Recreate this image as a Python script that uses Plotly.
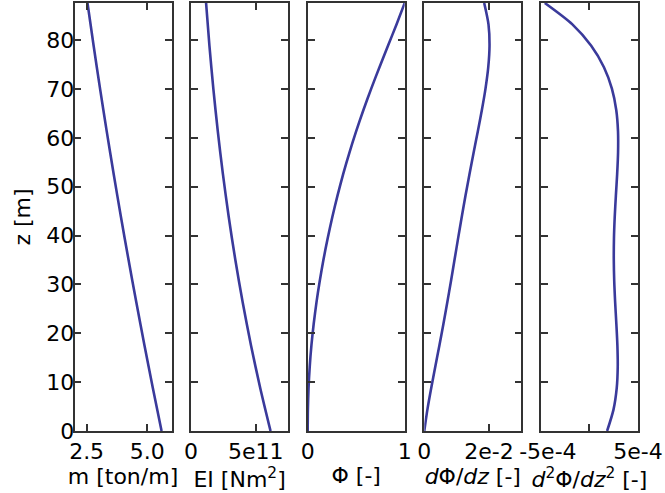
import plotly.graph_objects as go

# ---- data ----
z_props = [0.0, 8.76, 17.52, 26.28, 35.04, 43.80, 52.56, 61.32, 70.08, 78.84, 87.60]
mass_ton_per_m = [5.591, 5.232, 4.886, 4.551, 4.228, 3.916, 3.617, 3.329, 3.053, 2.789, 2.536]
EI_Nm2 = [6.143e11, 5.348e11, 4.633e11, 3.991e11, 3.419e11, 2.910e11, 2.460e11,
          2.065e11, 1.719e11, 1.418e11, 1.158e11]

z_mode = [0.0, 4.38, 8.76, 13.14, 17.52, 21.90, 26.28, 30.66, 35.04, 39.42, 43.80,
          48.18, 52.56, 56.94, 61.32, 65.70, 70.08, 74.46, 78.84, 83.22, 87.60]
phi = [0.0, 0.0020, 0.0087, 0.0208, 0.0384, 0.0616, 0.0901, 0.1237, 0.1623, 0.2056, 0.2539,
       0.3071, 0.3656, 0.4296, 0.4992, 0.5744, 0.6549, 0.7399, 0.8276, 0.9155, 1.0]
dphi_dz = [0.0, 0.000958, 0.002128, 0.003392, 0.004668, 0.005910, 0.007100, 0.008241,
           0.009350, 0.010452, 0.011577, 0.012745, 0.013970, 0.015247, 0.016544, 0.017804,
           0.018929, 0.019782, 0.020171, 0.019854, 0.018521]
d2phi_dz2 = [1.825e-4, 2.484e-4, 2.816e-4, 2.922e-4, 2.886e-4, 2.779e-4, 2.657e-4, 2.560e-4,
             2.514e-4, 2.532e-4, 2.610e-4, 2.730e-4, 2.861e-4, 2.954e-4, 2.949e-4, 2.768e-4,
             2.320e-4, 1.500e-4, 0.187e-4, -1.755e-4, -4.6e-4]

x_titles = ["m [ton/m]", "EI [Nm<sup>2</sup>]", "Φ [-]",
            "<i>d</i>Φ/<i>dz</i> [-]", "<i>d</i><sup>2</sup>Φ/<i>dz</i><sup>2</sup> [-]"]
x_ranges = [[2.0, 6.0], [0.0, 7.5e11], [0.0, 1.0], [0.0, 0.03], [-5e-4, 5e-4]]
x_tickvals = [[2.5, 5.0], [0.0, 5e11], [0.0, 1.0], [0.0, 0.02], [-5e-4, 0.0, 5e-4]]
x_ticktext = [["2.5", "5.0"], ["0", "5e11"], ["0", "1"], ["0", "2e-2"],
              ["\u00a0\u00a0-5e-4", "", "5e-4"]]
z_ticks = [0, 10, 20, 30, 40, 50, 60, 70, 80]

series = [(mass_ton_per_m, z_props), (EI_Nm2, z_props), (phi, z_mode),
          (dphi_dz, z_mode), (d2phi_dz2, z_mode)]

# ---- figure ----
W, H = 665, 493
ml, mr, mt, mb = 74, 27, 3, 62
pw = W - ml - mr
panel_w = 97.0
step = 116.6
line_color = "rgb(58,58,155)"
spine = "#333333"
font = dict(family="DejaVu Sans", size=22, color="black")

fig = go.Figure()
layout = dict(width=W, height=H, margin=dict(l=ml, r=mr, t=mt, b=mb, autoexpand=False),
              paper_bgcolor="white", plot_bgcolor="white", showlegend=False, font=font)

for i, (xs, zs) in enumerate(series):
    n = "" if i == 0 else str(i + 1)
    fig.add_trace(go.Scatter(x=xs, y=zs, mode="lines", xaxis="x" + n, yaxis="y" + n,
                             line=dict(color=line_color, width=2.6, shape="spline", smoothing=0.8),
                             hoverinfo="skip"))
    left = 74.5 + step * i - ml
    dom = [max(0.0, left / pw), min(1.0, (left + panel_w) / pw)]
    layout["xaxis" + n] = dict(domain=dom, range=x_ranges[i], anchor="y" + n,
                               tickvals=x_tickvals[i], ticktext=x_ticktext[i],
                               ticks="inside", ticklen=7, tickwidth=1.5, tickcolor=spine,
                               showline=True, linecolor=spine, linewidth=1.6, mirror="ticks",
                               showgrid=False, zeroline=False, tickfont=font, automargin=False,
                               ticklabelstandoff=0,
                               title=dict(text=x_titles[i], font=font, standoff=4))
    ya = dict(domain=[0, 1], range=[0, 87.6], anchor="x" + n, tickvals=z_ticks,
              ticks="inside", ticklen=7, tickwidth=1.5, tickcolor=spine,
              showline=True, linecolor=spine, linewidth=1.6, mirror="ticks",
              showgrid=False, zeroline=False, tickfont=font, automargin=False,
              ticklabelstandoff=-6)
    if i == 0:
        ya["title"] = dict(text="z [m]", font=font, standoff=10)
    else:
        ya["showticklabels"] = False
        ya["matches"] = "y"
    layout["yaxis" + n] = ya

fig.update_layout(**layout)
fig.write_html("out.html", config={"displayModeBar": False},
               post_script="document.body.style.margin='0';document.body.style.overflow='hidden';")
